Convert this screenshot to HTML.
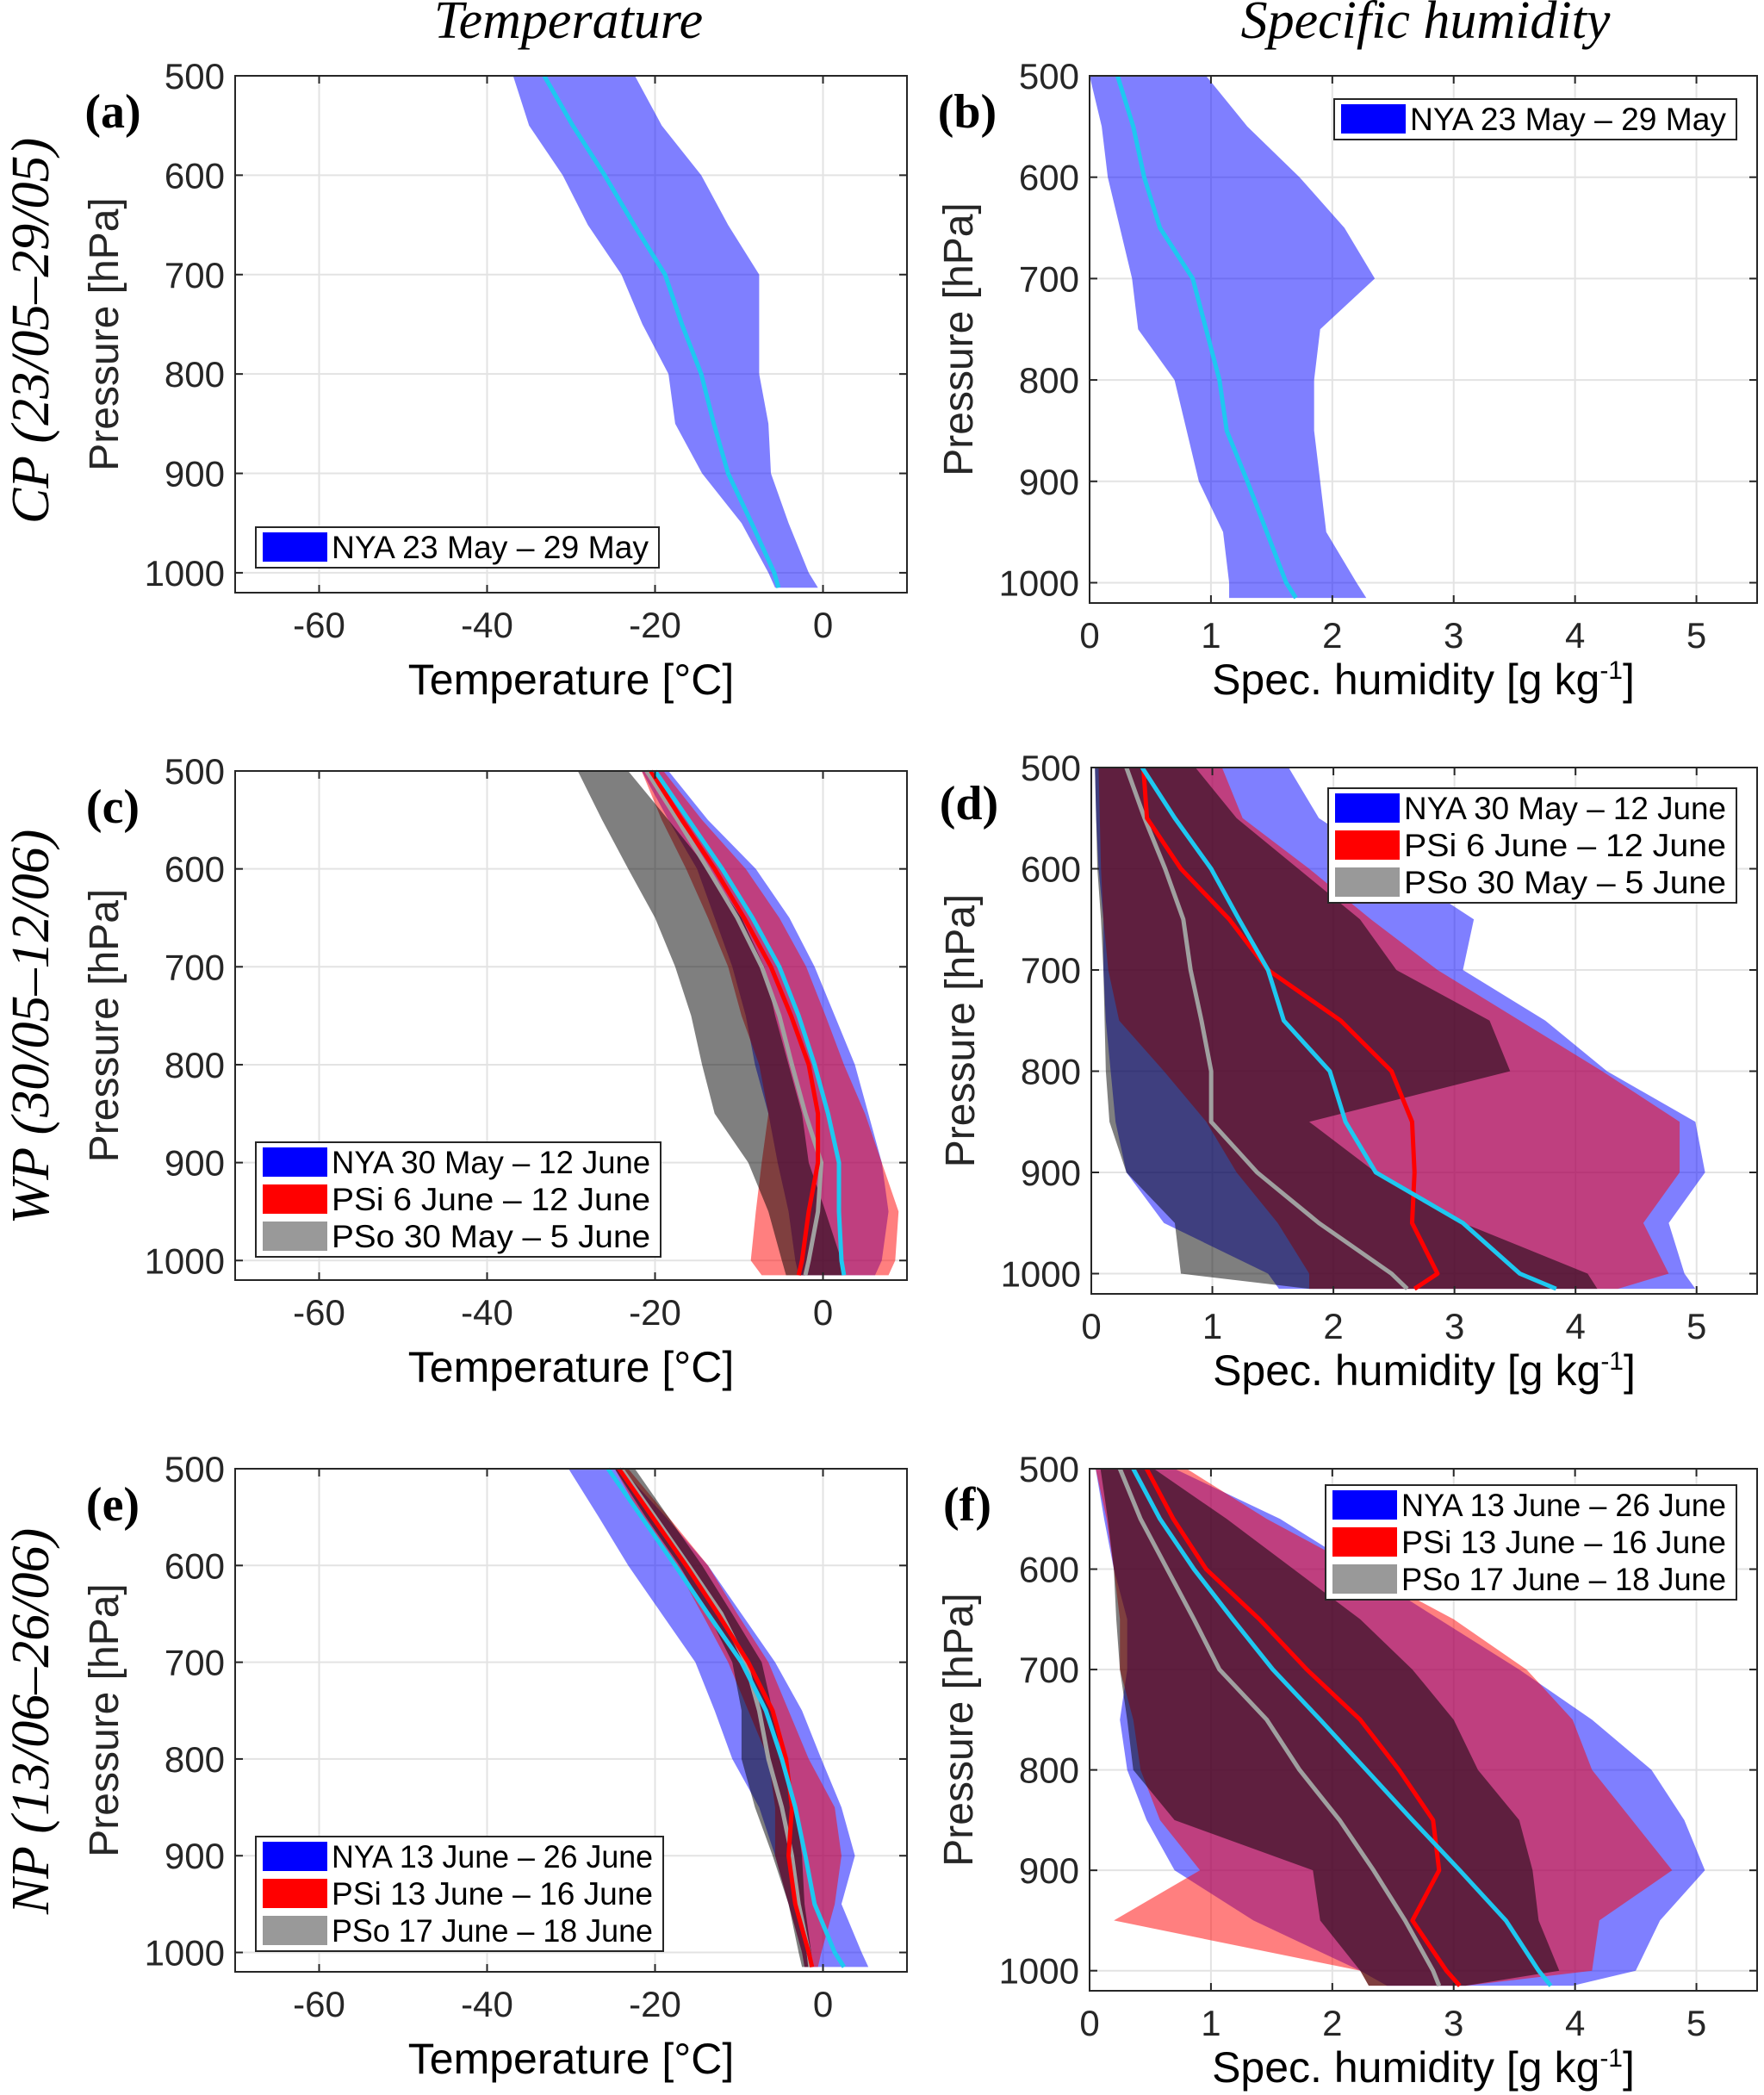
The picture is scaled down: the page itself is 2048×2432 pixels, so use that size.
<!DOCTYPE html>
<html><head><meta charset="utf-8"><style>
html,body{margin:0;padding:0;background:#fff;width:2048px;height:2432px;overflow:hidden}
svg{display:block}
text{font-family:"Liberation Sans",sans-serif}
</style></head><body>
<svg id="fig" width="2048" height="2432" viewBox="0 0 2048 2432" xmlns="http://www.w3.org/2000/svg">
<text x="660" y="44" font-size="62" font-style="italic" text-anchor="middle" style="font-family:'Liberation Serif',serif">Temperature</text>
<text x="1655" y="44" font-size="62" font-style="italic" text-anchor="middle" style="font-family:'Liberation Serif',serif">Specific humidity</text>
<text transform="translate(56,384) rotate(-90)" font-size="62" font-style="italic" text-anchor="middle" style="font-family:'Liberation Serif',serif">CP (23/05–29/05)</text>
<text transform="translate(56,1192) rotate(-90)" font-size="62" font-style="italic" text-anchor="middle" style="font-family:'Liberation Serif',serif">WP (30/05–12/06)</text>
<text transform="translate(56,1998) rotate(-90)" font-size="62" font-style="italic" text-anchor="middle" style="font-family:'Liberation Serif',serif">NP (13/06–26/06)</text>
</svg>
<script>
// pressure levels (hPa)
const P = [500,550,600,650,700,750,800,850,900,950,1000,1015];
// (a) temperature CP
const aNyaMin = [-36.9,-35,-31,-28,-24,-21.5,-18.4,-17.6,-14.4,-9.7,-6.5,-5.7];
const aNyaMax = [-22.4,-19.2,-14.5,-11.3,-7.6,-7.6,-7.6,-6.5,-6.2,-4.1,-1.7,-0.6];
const aNyaMean = [-33.2,-29.8,-26,-22.5,-18.8,-16.8,-14.5,-13,-11.3,-8.5,-5.8,-5.3];
// (b) humidity CP
const bNyaMin = [0,0.1,0.15,0.25,0.35,0.4,0.7,0.8,0.9,1.1,1.15,1.15];
const bNyaMax = [0.96,1.3,1.73,2.1,2.35,1.9,1.85,1.85,1.9,1.95,2.2,2.28];
const bNyaMean = [0.23,0.36,0.45,0.58,0.85,0.96,1.07,1.13,1.3,1.46,1.62,1.7];
// (c) temperature WP
const cNyaMin = [-21.6,-18.4,-15,-12.9,-10.8,-9.2,-8.1,-6.5,-5.4,-4.1,-3.3,-2.9];
const cNyaMax = [-18.4,-13.7,-8,-4,-1,1.4,3.8,5.4,7,7.8,7,6.2];
const cNyaMean = [-20,-16,-12,-8.4,-5.2,-2.9,-1,0.6,1.9,1.9,2.2,2.5];
const cPsiMin = [-21.6,-19.2,-16.3,-13.7,-11.3,-9.7,-7.6,-6.5,-7.3,-8,-8.6,-7.3];
const cPsiMax = [-19,-14.4,-9.2,-5.2,-2,0.3,2.5,5,7,9,8.6,7.8];
const cPsiMean = [-20.5,-16.8,-12.9,-9.4,-6.2,-3.8,-1.7,-0.6,-0.6,-1.7,-2.5,-2.9];
const cPsoMin = [-29.2,-26.3,-23.2,-20,-17.6,-15.7,-14.4,-12.9,-8.9,-6.5,-4.9,-4.4];
const cPsoMax = [-23.2,-18.4,-13.7,-9.7,-7,-5.7,-4.1,-2.5,-1.7,0.3,2.2,2.5];
const cPsoMean = [-21,-17.3,-13.7,-10.2,-7.3,-5.2,-3.7,-2.1,-0.2,-0.6,-1.7,-2.1];
// (d) humidity WP
const dNyaMin = [0.03,0.04,0.06,0.1,0.1,0.12,0.16,0.2,0.29,0.6,1.46,1.55];
const dNyaMax = [1.63,1.88,2.52,3.16,3.07,3.75,4.26,4.99,5.07,4.77,4.9,4.99];
const dNyaMean = [0.42,0.69,0.99,1.22,1.46,1.59,1.97,2.1,2.35,3.07,3.54,3.84];
const dPsiMin = [0.06,0.07,0.08,0.1,0.14,0.23,0.6,0.95,1.2,1.54,1.8,1.8];
const dPsiMax = [1.08,1.25,1.8,2.31,2.86,3.54,4.22,4.86,4.86,4.56,4.77,4.35];
const dPsiMean = [0.43,0.46,0.74,1.14,1.46,2.06,2.48,2.65,2.67,2.65,2.86,2.67];
const dPsoMin = [0.03,0.04,0.05,0.08,0.1,0.11,0.12,0.15,0.29,0.69,0.74,1.8];
const dPsoMax = [0.86,1.2,1.71,2.22,2.52,3.29,3.46,1.8,2.35,3.07,4.1,4.18];
const dPsoMean = [0.29,0.44,0.61,0.76,0.82,0.91,0.99,0.99,1.37,1.88,2.48,2.61];
// (e) temperature NP
const eNyaMin = [-30.3,-26.7,-23.2,-19.2,-15.2,-12.9,-10.8,-7.6,-5.7,-4.1,-2.5,-2.2];
const eNyaMax = [-24,-18.7,-13.7,-9.7,-5.7,-2.5,-0.2,2.2,3.8,2.2,4.6,5.4];
const eNyaMean = [-25.6,-21.6,-17.6,-13.7,-9.7,-6.8,-4.9,-3.3,-2.1,-1,1.4,2.5];
const ePsiMin = [-24.8,-21.6,-17.6,-14.4,-11.3,-8.9,-6.5,-5.7,-5.7,-4.1,-2.5,-2.2];
const ePsiMax = [-23.2,-18.4,-13.7,-10.2,-6.5,-4.1,-1.7,1.4,2.2,1.4,-0.2,-0.6];
const ePsiMean = [-24.3,-20.3,-16.3,-12.5,-8.9,-6,-4.4,-3.7,-4.1,-3.3,-1.7,-1.3];
const ePsoMin = [-24.8,-21.1,-17.1,-13.7,-10.8,-9.7,-9.7,-8.1,-6,-4.1,-2.9,-2.5];
const ePsoMax = [-22.4,-18.4,-14.4,-10.8,-7.3,-6,-4.9,-3.3,-2.5,-2.2,-1.4,-1.2];
const ePsoMean = [-24,-20,-16,-12.1,-9.2,-7.6,-6.5,-4.9,-3.7,-2.9,-1.7,-1.5];
// (f) humidity NP
const fNyaMin = [0.05,0.12,0.2,0.31,0.31,0.25,0.31,0.47,0.7,1.35,2.23,2.45];
const fNyaMax = [0.7,1.57,2.23,2.88,3.54,4.14,4.63,4.9,5.07,4.7,4.5,3.98];
const fNyaMean = [0.36,0.58,0.86,1.18,1.51,1.9,2.28,2.66,3.05,3.43,3.7,3.8];
const fPsiMin = [0.05,0.14,0.2,0.25,0.25,0.36,0.42,0.58,0.91,0.2,2.23,2.3];
const fPsiMax = [0.8,1.46,2.23,3,3.6,3.98,4.14,4.47,4.8,4.2,4.14,3.1];
const fPsiMean = [0.47,0.69,0.96,1.4,1.79,2.23,2.55,2.83,2.88,2.66,2.94,3.05];
const fPsoMin = [0.09,0.15,0.2,0.22,0.25,0.31,0.36,0.7,1.84,1.9,2.23,2.3];
const fPsoMax = [0.53,1.13,1.68,2.23,2.66,3,3.2,3.54,3.65,3.7,3.87,3.1];
const fPsoMean = [0.25,0.42,0.64,0.86,1.07,1.46,1.73,2.06,2.34,2.6,2.83,2.88];
// ticks
const tTicks = [-60,-40,-20,0];
const qTicks = [0,1,2,3,4,5];
const pTicks = [500,600,700,800,900,1000];

const NS = 'http://www.w3.org/2000/svg';
const svg = document.getElementById('fig');
function mk(tag, attrs, parent){const e=document.createElementNS(NS,tag);for(const k in attrs)e.setAttribute(k,attrs[k]);(parent||svg).appendChild(e);return e;}

function panel(cfg){
  const g = mk('g',{});
  
  
  const X = v => cfg.x0 + (v - cfg.xd[0]) / (cfg.xd[1] - cfg.xd[0]) * (cfg.x1 - cfg.x0);
  const Y = p => cfg.y0 + (p - 500) / 520 * (cfg.y1 - cfg.y0);
  cfg.xt.forEach(v=>{
    const l = mk('line',{x1:X(v),x2:X(v),y1:cfg.y0,y2:cfg.y1,stroke:'#e3e3e3','stroke-width':2},g);
    
    
  });
  pTicks.forEach(p=>{
    const l = mk('line',{x1:cfg.x0,x2:cfg.x1,y1:Y(p),y2:Y(p),stroke:'#e3e3e3','stroke-width':2},g);
    
    
  });
  const fills = {nya:'rgba(0,0,255,0.5)', psi:'rgba(255,0,0,0.5)', pso:'rgba(0,0,0,0.5)'};
  ['nya','psi','pso'].forEach(s=>{
    const d = cfg.series[s]; if(!d) return;
    let pts = d.min.map((v,i)=>X(v)+','+Y(P[i]));
    pts = pts.concat(d.max.map((v,i)=>X(v)+','+Y(P[i])).reverse());
    const poly = mk('polygon',{points:pts.join(' '),fill:fills[s]},g);
    
    
  });
  const lc = {pso:'#a0a0a0', psi:'#ff0000', nya:'#1ec8f0'};
  ['pso','psi','nya'].forEach(s=>{
    const d = cfg.series[s]; if(!d) return;
    const pl = mk('polyline',{points:d.mean.map((v,i)=>X(v)+','+Y(P[i])).join(' '),fill:'none',stroke:lc[s],'stroke-width':5,'stroke-linejoin':'round'},g);
    
    
  });
  const fr = mk('rect',{x:cfg.x0,y:cfg.y0,width:cfg.x1-cfg.x0,height:cfg.y1-cfg.y0,fill:'none',stroke:'#262626','stroke-width':2},g);
  
  
  cfg.xt.forEach(v=>{
    mk('line',{x1:X(v),x2:X(v),y1:cfg.y1,y2:cfg.y1-9,stroke:'#262626','stroke-width':2},g);
    mk('line',{x1:X(v),x2:X(v),y1:cfg.y0,y2:cfg.y0+9,stroke:'#262626','stroke-width':2},g);
    const t = mk('text',{x:X(v),y:cfg.y1+52,'font-size':42,'text-anchor':'middle',fill:'#262626'},g);
    t.textContent = v;
    
    
  });
  pTicks.forEach(p=>{
    mk('line',{x1:cfg.x0,x2:cfg.x0+9,y1:Y(p),y2:Y(p),stroke:'#262626','stroke-width':2},g);
    mk('line',{x1:cfg.x1,x2:cfg.x1-9,y1:Y(p),y2:Y(p),stroke:'#262626','stroke-width':2},g);
    const t = mk('text',{x:cfg.x0-12,y:Y(p)+15,'font-size':42,'text-anchor':'end',fill:'#262626'},g);
    t.textContent = p;
    
    
  });
  const xt = mk('text',{x:(cfg.x0+cfg.x1)/2,y:cfg.y1+(cfg.hum?106:118),'font-size':50,'text-anchor':'middle',fill:'#000'},g);
  if(cfg.hum){ xt.innerHTML = 'Spec. humidity [g kg<tspan dy="-18" font-size="30">-1</tspan><tspan dy="18">]</tspan>'; }
  else xt.textContent = 'Temperature [°C]';
  
  
  const yt = mk('text',{transform:`translate(${cfg.x0-136},${(cfg.y0+cfg.y1)/2}) rotate(-90)`,'font-size':48,'text-anchor':'middle',fill:'#262626'},g);
  yt.textContent = 'Pressure [hPa]';
  
  
  const lt = mk('text',{x:cfg.x0-142,y:cfg.y0+60,'font-size':56,'font-weight':'bold','text-anchor':'middle',style:"font-family:'Liberation Serif',serif"},g);
  lt.textContent = '(' + cfg.id + ')';
  
  
  const L = cfg.legend;
  const lg = mk('g',{},g);
  
  
  mk('rect',{x:L.x,y:L.y,width:L.w,height:L.rows.length*43+4,fill:'#fff',stroke:'#262626','stroke-width':2},lg);
  const sw = {nya:'#0000ff', psi:'#ff0000', pso:'#999999'};
  L.rows.forEach((r,i)=>{
    const yy = L.y + 6 + i*43;
    const e = mk('g',{},lg);
    
    
    mk('rect',{x:L.x+8,y:yy,width:75,height:34,fill:sw[r[0]]},e);
    const t = mk('text',{x:L.x+88,y:yy+30,'font-size':37,textLength:L.w-100,lengthAdjust:'spacingAndGlyphs',style:"font-family:'Liberation Sans Narrow','Liberation Sans',sans-serif"},e);
    t.textContent = r[1];
  });
}

panel({id:'a',x0:273,x1:1053,y0:88,y1:688,xd:[-70,10],xt:tTicks,
  series:{nya:{min:aNyaMin,max:aNyaMax,mean:aNyaMean}},
  legend:{x:297,y:612,w:468,rows:[['nya','NYA 23 May – 29 May']]}});
panel({id:'b',x0:1265,x1:2040,y0:88,y1:700,xd:[0,5.5],xt:qTicks,hum:true,
  series:{nya:{min:bNyaMin,max:bNyaMax,mean:bNyaMean}},
  legend:{x:1549,y:115,w:467,rows:[['nya','NYA 23 May – 29 May']]}});
panel({id:'c',x0:273,x1:1053,y0:895,y1:1486,xd:[-70,10],xt:tTicks,
  series:{nya:{min:cNyaMin,max:cNyaMax,mean:cNyaMean},psi:{min:cPsiMin,max:cPsiMax,mean:cPsiMean},pso:{min:cPsoMin,max:cPsoMax,mean:cPsoMean}},
  legend:{x:297,y:1326,w:470,rows:[['nya','NYA 30 May – 12 June'],['psi','PSi 6 June – 12 June'],['pso','PSo 30 May – 5 June']]}});
panel({id:'d',x0:1267,x1:2040,y0:891,y1:1502,xd:[0,5.5],xt:qTicks,hum:true,
  series:{nya:{min:dNyaMin,max:dNyaMax,mean:dNyaMean},psi:{min:dPsiMin,max:dPsiMax,mean:dPsiMean},pso:{min:dPsoMin,max:dPsoMax,mean:dPsoMean}},
  legend:{x:1542,y:915,w:474,rows:[['nya','NYA 30 May – 12 June'],['psi','PSi 6 June – 12 June'],['pso','PSo 30 May – 5 June']]}});
panel({id:'e',x0:273,x1:1053,y0:1705,y1:2289,xd:[-70,10],xt:tTicks,
  series:{nya:{min:eNyaMin,max:eNyaMax,mean:eNyaMean},psi:{min:ePsiMin,max:ePsiMax,mean:ePsiMean},pso:{min:ePsoMin,max:ePsoMax,mean:ePsoMean}},
  legend:{x:297,y:2132,w:473,rows:[['nya','NYA 13 June – 26 June'],['psi','PSi 13 June – 16 June'],['pso','PSo 17 June – 18 June']]}});
panel({id:'f',x0:1265,x1:2040,y0:1705,y1:2311,xd:[0,5.5],xt:qTicks,hum:true,
  series:{nya:{min:fNyaMin,max:fNyaMax,mean:fNyaMean},psi:{min:fPsiMin,max:fPsiMax,mean:fPsiMean},pso:{min:fPsoMin,max:fPsoMax,mean:fPsoMean}},
  legend:{x:1539,y:1724,w:477,rows:[['nya','NYA 13 June – 26 June'],['psi','PSi 13 June – 16 June'],['pso','PSo 17 June – 18 June']]}});
</script>
</body></html>
